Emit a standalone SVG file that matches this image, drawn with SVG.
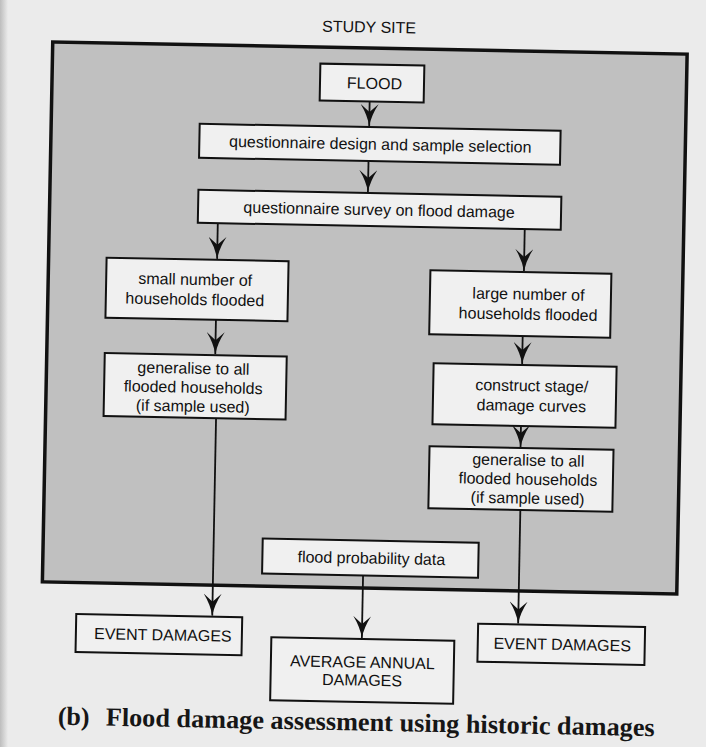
<svg xmlns="http://www.w3.org/2000/svg" width="706" height="747" viewBox="0 0 706 747">
<style>
  .page { fill: #ebebeb; }
  .site { fill: #c0c0c0; stroke: #111; stroke-width: 3.5; }
  .box { fill: #f0f0f0; stroke: #111; stroke-width: 2; }
  .t { font-family: "Liberation Sans", Arial, sans-serif; font-size: 16px; fill: #111; text-anchor: middle; }
  .cap { font-family: "Liberation Serif", "Times New Roman", serif; font-size: 26px; font-weight: bold; fill: #161616; }
  .conn line { stroke: #111; stroke-width: 1.8; fill: none; marker-end: url(#head); }
</style>
<defs>
  <linearGradient id="edge" x1="0" y1="0" x2="1" y2="0">
    <stop offset="0" stop-color="#bdbdbd"/>
    <stop offset="1" stop-color="#ebebeb"/>
  </linearGradient>
  <marker id="head" viewBox="0 0 22 18" refX="22" refY="9" markerWidth="22" markerHeight="18" orient="auto" markerUnits="userSpaceOnUse">
    <path d="M22,9 Q11,7 0,0 L8,9 L0,18 Q11,11 22,9 Z" fill="#111"/>
  </marker>
</defs>
<rect class="page" x="0" y="0" width="706" height="747"/>
<rect x="0" y="0" width="8" height="747" fill="url(#edge)"/>
<g transform="rotate(1.1 364 370)">
  <g id="study-site">
    <rect class="site" x="46.5" y="48" width="634.5" height="540"/>
    <text class="t" x="362.5" y="32.5">STUDY SITE</text>
  </g>
  <g id="flood">
    <rect class="box" x="314.5" y="64.5" width="104" height="37"/>
    <text class="t" x="369" y="88.7">FLOOD</text>
  </g>
  <g id="q-design">
    <rect class="box" x="195" y="127" width="361" height="34"/>
    <text class="t" x="376" y="149.5">questionnaire design and sample selection</text>
  </g>
  <g id="q-survey">
    <rect class="box" x="195" y="193" width="363" height="33"/>
    <text class="t" x="376" y="215">questionnaire survey on flood damage</text>
  </g>
  <g id="small-number">
    <rect class="box" x="104.5" y="262.7" width="182" height="60"/>
    <text class="t" x="193.5" y="288.2">small number of</text>
    <text class="t" x="193.5" y="308.2">households flooded</text>
  </g>
  <g id="generalise-left">
    <rect class="box" x="104.5" y="358" width="182" height="63"/>
    <text class="t" x="193.5" y="377">generalise to all</text>
    <text class="t" x="193.5" y="396">flooded households</text>
    <text class="t" x="193.5" y="415">(if sample used)</text>
  </g>
  <g id="large-number">
    <rect class="box" x="428.5" y="269" width="181" height="64"/>
    <text class="t" x="527" y="296.5">large number of</text>
    <text class="t" x="527" y="316.5">households flooded</text>
  </g>
  <g id="construct">
    <rect class="box" x="433.5" y="362" width="183" height="61"/>
    <text class="t" x="532" y="388">construct stage/</text>
    <text class="t" x="532" y="408">damage curves</text>
  </g>
  <g id="generalise-right">
    <rect class="box" x="431" y="445" width="184" height="62"/>
    <text class="t" x="530" y="462.5">generalise to all</text>
    <text class="t" x="530" y="481.5">flooded households</text>
    <text class="t" x="530" y="500.5">(if sample used)</text>
  </g>
  <g id="flood-probability">
    <rect class="box" x="266" y="540.5" width="216" height="35"/>
    <text class="t" x="375" y="563.5">flood probability data</text>
  </g>
  <g id="event-left">
    <rect class="box" x="81" y="619.5" width="166" height="38"/>
    <text class="t" x="168" y="644.2">EVENT DAMAGES</text>
  </g>
  <g id="average-annual">
    <rect class="box" x="276.5" y="639" width="183" height="63"/>
    <text class="t" x="368" y="667.7">AVERAGE ANNUAL</text>
    <text class="t" x="368" y="685.7">DAMAGES</text>
  </g>
  <g id="event-right">
    <rect class="box" x="483" y="621.5" width="167" height="38"/>
    <text class="t" x="567.5" y="646.2">EVENT DAMAGES</text>
  </g>
  <g id="connectors" class="conn">
    <line x1="364.5" y1="101.5" x2="364.5" y2="126"/>
    <line x1="364.5" y1="161" x2="364.5" y2="192"/>
    <line x1="215" y1="226" x2="215" y2="261.7"/>
    <line x1="215" y1="322.7" x2="215" y2="357"/>
    <line x1="217" y1="421" x2="217" y2="618.5"/>
    <line x1="522" y1="226" x2="522" y2="268"/>
    <line x1="522" y1="333" x2="522" y2="361"/>
    <line x1="522" y1="423" x2="522" y2="444"/>
    <line x1="523" y1="507" x2="523" y2="620.5"/>
    <line x1="367" y1="575.5" x2="367" y2="638"/>
  </g>
  <g id="caption">
    <text class="cap" x="64.5" y="730.5">(b)</text>
    <text class="cap" x="112.5" y="730.5" textLength="549" lengthAdjust="spacingAndGlyphs">Flood damage assessment using historic damages</text>
  </g>
</g>
</svg>
